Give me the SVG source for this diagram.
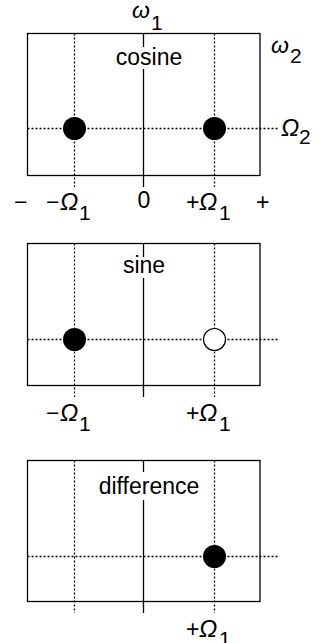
<svg xmlns="http://www.w3.org/2000/svg" width="329" height="643" viewBox="0 0 329 643">
<style>
.frame{fill:none;stroke:#000;stroke-width:1.3}
.axis{stroke:#000;stroke-width:1.3;fill:none}
.dot{stroke:#000;stroke-width:1.3;stroke-dasharray:2 2;fill:none}
.t{font-family:"Liberation Sans",Arial,sans-serif;font-size:23px;fill:#000}
.m{font-family:"Liberation Sans",Arial,sans-serif;font-size:23px;fill:#000}
.om{font-family:"Liberation Sans",Arial,sans-serif;font-size:24px;font-style:italic;fill:#000}
.it{font-style:italic}
.sub{font-family:"Liberation Sans",Arial,sans-serif;font-size:21px;fill:#000}
</style>
<rect width="329" height="643" fill="#fff"/>
<g id="cosine">
<rect class="frame" x="27.5" y="33.5" width="232.5" height="142"/>
<line class="dot" x1="74.5" y1="33.5" x2="74.5" y2="187"/>
<line class="dot" x1="214.5" y1="33.5" x2="214.5" y2="187"/>
<line class="dot" x1="27.5" y1="128.5" x2="278" y2="128.5"/>
<line class="axis" x1="143.5" y1="33.5" x2="143.5" y2="47"/>
<line class="axis" x1="143.5" y1="69" x2="143.5" y2="187"/>
<circle cx="74.5" cy="128.5" r="11.5" fill="#000"/>
<circle cx="214.5" cy="128.5" r="11.5" fill="#000"/>
<text class="t" x="149" y="65" text-anchor="middle">cosine</text>
<text class="t it" x="132" y="18">ω</text><text class="sub" x="151" y="30">1</text>
<text class="t it" x="271" y="53">ω</text><text class="sub" x="290" y="63">2</text>
<text class="om" x="281" y="136">Ω</text><text class="sub" x="299" y="144">2</text>
<text class="m" x="14" y="210">−</text>
<text class="m" x="46" y="210">−</text><text class="om" x="60" y="210">Ω</text><text class="sub" x="79" y="220">1</text>
<text class="m" x="144" y="208" text-anchor="middle">0</text>
<text class="m" x="186" y="210">+</text><text class="om" x="199" y="210">Ω</text><text class="sub" x="219" y="220">1</text>
<text class="m" x="256" y="210">+</text>
</g>
<g id="sine">
<rect class="frame" x="27.5" y="243.5" width="232.5" height="142"/>
<line class="dot" x1="74.5" y1="243.5" x2="74.5" y2="397"/>
<line class="dot" x1="214.5" y1="243.5" x2="214.5" y2="397"/>
<line class="dot" x1="27.5" y1="339.5" x2="278" y2="339.5"/>
<line class="axis" x1="143.5" y1="243.5" x2="143.5" y2="257"/>
<line class="axis" x1="143.5" y1="278" x2="143.5" y2="397"/>
<circle cx="74.5" cy="339.5" r="11.5" fill="#000"/>
<circle cx="214.5" cy="339.5" r="11" fill="#fff" stroke="#000" stroke-width="1.2"/>
<text class="t" x="144" y="273" text-anchor="middle">sine</text>
<text class="m" x="46" y="421">−</text><text class="om" x="60" y="421">Ω</text><text class="sub" x="79" y="431">1</text>
<text class="m" x="186" y="421">+</text><text class="om" x="199" y="421">Ω</text><text class="sub" x="219" y="431">1</text>
</g>
<g id="difference">
<rect class="frame" x="27.5" y="460.5" width="232.5" height="141"/>
<line class="dot" x1="74.5" y1="460.5" x2="74.5" y2="613"/>
<line class="dot" x1="214.5" y1="460.5" x2="214.5" y2="613"/>
<line class="dot" x1="27.5" y1="556.5" x2="278" y2="556.5"/>
<line class="axis" x1="143.5" y1="460.5" x2="143.5" y2="472"/>
<line class="axis" x1="143.5" y1="500" x2="143.5" y2="613"/>
<circle cx="214.5" cy="556.5" r="11.5" fill="#000"/>
<text class="t" x="149" y="494" text-anchor="middle">difference</text>
<text class="m" x="186" y="637">+</text><text class="om" x="199" y="637">Ω</text><text class="sub" x="219" y="646">1</text>
</g>
</svg>
